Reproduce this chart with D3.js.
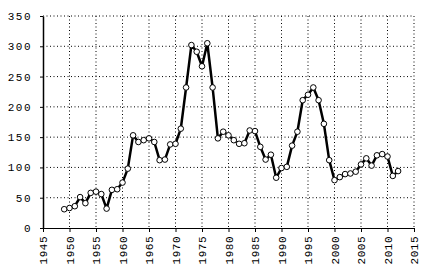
<!DOCTYPE html>
<html>
<head>
<meta charset="utf-8">
<script src="https://cdn.jsdelivr.net/npm/d3@7"></script>
<style>
  body { margin: 0; background: #fff; }
  svg text { font-family: "Liberation Mono", "DejaVu Sans Mono", monospace; font-size: 11px; fill: #000; }
</style>
</head>
<body>
<div id="chart"></div>
<script>
const years = [1949, 1950, 1951, 1952, 1953, 1954, 1955, 1956, 1957, 1958, 1959, 1960,
  1961, 1962, 1963, 1964, 1965, 1966, 1967, 1968, 1969, 1970, 1971, 1972, 1973, 1974,
  1975, 1976, 1977, 1978, 1979, 1980, 1981, 1982, 1983, 1984, 1985, 1986, 1987, 1988,
  1989, 1990, 1991, 1992, 1993, 1994, 1995, 1996, 1997, 1998, 1999, 2000, 2001, 2002,
  2003, 2004, 2005, 2006, 2007, 2008, 2009, 2010, 2011, 2012];
const values = [31, 33, 36, 51, 41, 58, 60, 56, 32, 63, 64, 75,
  98, 153, 142, 145, 148, 142, 112, 113, 138, 139, 164, 232, 302, 291,
  267, 305, 232, 148, 159, 153, 145, 139, 140, 161, 160, 134, 113, 121,
  83, 99, 101, 136, 159, 211, 220, 232, 211, 172, 112, 79, 84, 89,
  90, 93, 105, 115, 103, 120, 122, 118, 86, 94];
const xTicks = [1945, 1950, 1955, 1960, 1965, 1970, 1975, 1980, 1985, 1990, 1995, 2000, 2005, 2010, 2015];
const yTicks = [0, 50, 100, 150, 200, 250, 300, 350];

const data = years.map((y, i) => ({ year: y, value: values[i] }));

const margin = {top: 16, right: 12, bottom: 44, left: 43},
  width = 426 - margin.left - margin.right,
  height = 272 - margin.top - margin.bottom;

const svg = d3.select("#chart")
  .append("svg")
    .attr("width", 426)
    .attr("height", 272)
  .append("g")
    .attr("transform", `translate(${margin.left},${margin.top})`);

const x = d3.scaleLinear().domain([1945, 2015]).range([0, width]);
const y = d3.scaleLinear().domain([0, 350]).range([height, 0]);

// dotted grid
svg.append("g")
  .selectAll("line")
  .data(yTicks.slice(1))
  .join("line")
    .attr("x1", 0).attr("x2", width)
    .attr("y1", d => y(d)).attr("y2", d => y(d))
    .attr("stroke", "#000")
    .attr("stroke-width", 1)
    .attr("stroke-dasharray", "1,2.5");

svg.append("g")
  .selectAll("line")
  .data(xTicks.slice(1))
  .join("line")
    .attr("x1", d => x(d)).attr("x2", d => x(d))
    .attr("y1", 0).attr("y2", height)
    .attr("stroke", "#000")
    .attr("stroke-width", 1)
    .attr("stroke-dasharray", "1,2.5");

// axes
const xAxis = svg.append("g")
  .attr("transform", `translate(0,${height})`)
  .call(d3.axisBottom(x).tickValues(xTicks).tickFormat(d3.format("d")).tickSize(4).tickSizeOuter(0));
xAxis.select(".domain").attr("stroke-width", 1.2);
xAxis.selectAll("text")
  .attr("transform", "rotate(-90)")
  .attr("text-anchor", "end")
  .attr("x", -8)
  .attr("y", 0)
  .attr("dy", "0.35em")
  .attr("letter-spacing", "0.5px");

const yAxis = svg.append("g")
  .call(d3.axisLeft(y).tickValues(yTicks).tickSize(3).tickSizeOuter(0));
yAxis.select(".domain").attr("stroke-width", 1.5);
yAxis.selectAll("text")
  .attr("x", -11)
  .attr("letter-spacing", "1.5px");

// series
const line = d3.line()
  .x(d => x(d.year))
  .y(d => y(d.value));

svg.append("path")
  .datum(data)
  .attr("fill", "none")
  .attr("stroke", "#000")
  .attr("stroke-width", 2.5)
  .attr("stroke-linejoin", "round")
  .attr("d", line);

svg.append("g")
  .selectAll("circle")
  .data(data)
  .join("circle")
    .attr("cx", d => x(d.year))
    .attr("cy", d => y(d.value))
    .attr("r", 2.8)
    .attr("fill", "#fff")
    .attr("stroke", "#000")
    .attr("stroke-width", 1);
</script>
</body>
</html>
